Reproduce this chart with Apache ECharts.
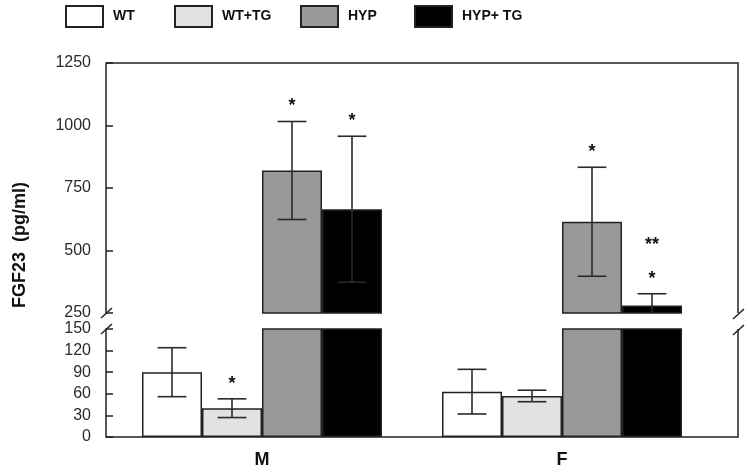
<!DOCTYPE html>
<html><head><meta charset="utf-8">
<script src="https://cdn.jsdelivr.net/npm/echarts@6/dist/echarts.min.js"></script>
<style>html,body{margin:0;padding:0;background:#fff}#c{width:750px;height:474px}</style>
</head><body><div id="c"></div>
<script>
// ---- data ----
const categories = ['M', 'F'];
const seriesNames = ['WT', 'WT+TG', 'HYP', 'HYP+ TG'];
const wtMean = [90, 63];
const wtErr = [34, 31];
const wtTgMean = [40, 57];
const wtTgErr = [13, 8];
const hypMean = [820, 615];
const hypErr = [196, 218];
const hypTgMean = [665, 280];
const hypTgErr = [292, 47];
const wtSig = ['', ''];
const wtTgSig = ['*', ''];
const hypSig = ['*', '*'];
const hypTgSig = ['*', '**\n*'];
const upperAxis = { min: 250, max: 1250, interval: 250 };
const lowerAxis = { min: 0, max: 150, interval: 30 };

// ---- style ----
const fills = ['#ffffff', '#e2e2e2', '#999999', '#000000'];
const lineCol = '#222';
const means = [wtMean, wtTgMean, hypMean, hypTgMean];
const errs = [wtErr, wtTgErr, hypErr, hypTgErr];
const sigs = [wtSig, wtTgSig, hypSig, hypTgSig];
const legendLeft = [65, 174, 300, 414];

const errData = [];
const errSig = [];
for (let s = 0; s < 4; s++) {
  for (let c = 0; c < categories.length; c++) {
    errData.push([c, means[s][c], errs[s][c], s]);
    errSig.push(sigs[s][c]);
  }
}

function makeRender(range) {
  return function (params, api) {
    const c = api.value(0), m = api.value(1), e = api.value(2), s = api.value(3);
    const band = api.size([1, 0])[0];
    const bw = band * 0.8 / 4;
    const x = api.coord([c, m])[0] + (s - 1.5) * bw;
    const hi = m + e, lo = m - e;
    const children = [];
    const cap = bw * 0.24;
    const cl = v => Math.max(range.min, Math.min(range.max, v));
    if (hi >= range.min && lo <= range.max) {
      const yt = api.coord([c, cl(hi)])[1];
      const yb = api.coord([c, cl(lo)])[1];
      const st = { stroke: '#2a2a2a', lineWidth: 1.6 };
      children.push({ type: 'line', shape: { x1: x, y1: yt, x2: x, y2: yb }, style: st });
      if (hi <= range.max && hi >= range.min)
        children.push({ type: 'line', shape: { x1: x - cap, y1: yt, x2: x + cap, y2: yt }, style: st });
      if (lo >= range.min && lo <= range.max)
        children.push({ type: 'line', shape: { x1: x - cap, y1: yb, x2: x + cap, y2: yb }, style: st });
      const sig = errSig[params.dataIndex];
      if (sig && hi <= range.max && hi >= range.min) {
        children.push({ type: 'text', x: x, y: yt + 2,
          style: { text: sig, align: 'center', verticalAlign: 'bottom', textAlign: 'center', textVerticalAlign: 'bottom',
            font: 'bold 18px "Liberation Sans", Arial, sans-serif', fill: '#111', lineHeight: 34 } });
      }
    }
    return { type: 'group', children: children };
  };
}

const series = [];
for (let g = 0; g < 2; g++) {
  for (let s = 0; s < 4; s++) {
    series.push({
      type: 'bar', name: seriesNames[s], xAxisIndex: g, yAxisIndex: g,
      data: means[s], barGap: '0%', barCategoryGap: '20%', clip: true, silent: true,
      itemStyle: { color: fills[s], borderColor: lineCol, borderWidth: 1.5 }
    });
  }
  series.push({
    type: 'custom', xAxisIndex: g, yAxisIndex: g, data: errData, clip: true, silent: true, z: 5,
    renderItem: makeRender(g === 0 ? upperAxis : lowerAxis)
  });
}

const tickFont = { fontFamily: '"Liberation Sans", Arial, sans-serif', fontSize: 16, color: '#2a2a2a', margin: 15,
  formatter: v => String(v) };
function yAx(g, a) {
  return {
    type: 'value', gridIndex: g, min: a.min, max: a.max, interval: a.interval, offset: 6,
    axisLine: { show: true, lineStyle: { color: lineCol, width: 1.5 } },
    axisTick: { show: true, inside: true, length: 7, lineStyle: { color: lineCol, width: 1.5 } },
    axisLabel: tickFont, splitLine: { show: false }
  };
}

const option = {
  animation: false,
  backgroundColor: '#fff',
  legend: seriesNames.map((n, i) => ({
    data: [n], left: legendLeft[i], top: 5, padding: 0, itemGap: 0,
    itemWidth: 37, itemHeight: 21, icon: 'rect', selectedMode: false,
    textStyle: { fontFamily: '"Liberation Sans Narrow", "Liberation Sans", Arial, sans-serif', fontWeight: 'bold', fontSize: 14, color: '#111', padding: [0, 0, 0, 5] }
  })),
  grid: [
    { left: 112, right: 38, top: 63, height: 250 },
    { left: 112, right: 38, top: 329, height: 108 }
  ],
  xAxis: [
    { type: 'category', gridIndex: 0, data: categories, show: false },
    { type: 'category', gridIndex: 1, data: categories,
      axisLine: { show: false }, axisTick: { show: false },
      axisLabel: { fontFamily: '"Liberation Sans", Arial, sans-serif', fontWeight: 'bold', fontSize: 18, color: '#111', margin: 14 } }
  ],
  yAxis: [yAx(0, upperAxis), yAx(1, lowerAxis)],
  series: series,
  graphic: [
    { type: 'text', x: 20, y: 245, rotation: Math.PI / 2,
      style: { text: 'FGF23  (pg/ml)', align: 'center', verticalAlign: 'middle', textAlign: 'center', textVerticalAlign: 'middle',
        font: 'bold 18px "Liberation Sans", Arial, sans-serif', fill: '#111' } },
    { type: 'polyline', shape: { points: [[106, 63], [738, 63], [738, 313]] }, style: { stroke: lineCol, lineWidth: 1.5, fill: null } },
    { type: 'polyline', shape: { points: [[738, 329], [738, 437], [106, 437]] }, style: { stroke: lineCol, lineWidth: 1.5, fill: null } },
    { type: 'line', shape: { x1: 101, y1: 318, x2: 112, y2: 308 }, style: { stroke: lineCol, lineWidth: 1.5 } },
    { type: 'line', shape: { x1: 101, y1: 334, x2: 112, y2: 324 }, style: { stroke: lineCol, lineWidth: 1.5 } },
    { type: 'line', shape: { x1: 733, y1: 319, x2: 744, y2: 309 }, style: { stroke: lineCol, lineWidth: 1.5 } },
    { type: 'line', shape: { x1: 733, y1: 335, x2: 744, y2: 325 }, style: { stroke: lineCol, lineWidth: 1.5 } }
  ]
};
const chart = echarts.init(document.getElementById('c'), null, { renderer: 'canvas' });
chart.setOption(option);
</script>
</body></html>
